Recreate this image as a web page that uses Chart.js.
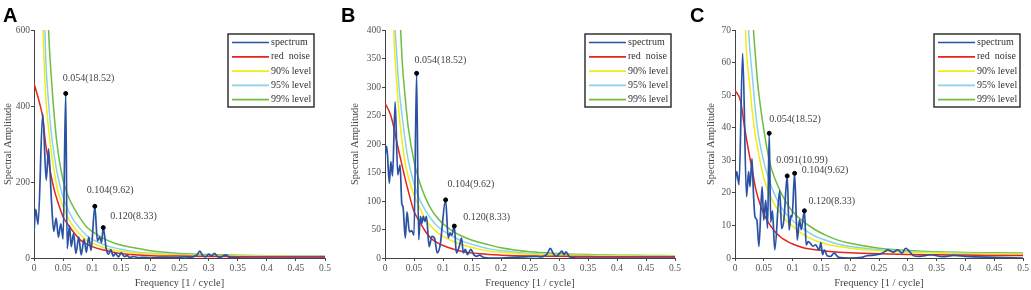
<!DOCTYPE html>
<html>
<head>
<meta charset="utf-8">
<script src="https://cdn.jsdelivr.net/npm/chart.js@4.4.1/dist/chart.umd.min.js"></script>
<style>
  html, body { margin: 0; padding: 0; background: #fff; }
  #wrap { position: relative; width: 1031px; height: 290px; overflow: hidden; }
  .panel { position: absolute; top: 0; height: 290px; }
  .letter { position: absolute; top: 5px; font: bold 20px "Liberation Sans", Arial, sans-serif; line-height: 1; color: #000; }
</style>
</head>
<body>
<div id="wrap">
  <div class="panel" style="left:0px;width:340px"><canvas id="chartA" width="340" height="290"></canvas></div>
  <div class="panel" style="left:340px;width:345px"><canvas id="chartB" width="345" height="290"></canvas></div>
  <div class="panel" style="left:685px;width:346px"><canvas id="chartC" width="346" height="290"></canvas></div>
  <div class="letter" style="left:3px">A</div>
  <div class="letter" style="left:341px">B</div>
  <div class="letter" style="left:690px">C</div>
</div>
<script>
// frequency grid shared by the smooth red noise / significance curves
const curveFreqs = [0, 0.01, 0.015, 0.02, 0.025, 0.03, 0.035, 0.04, 0.05, 0.06, 0.07, 0.08, 0.09, 0.1, 0.12, 0.14, 0.16, 0.18, 0.2, 0.25, 0.3, 0.35, 0.4, 0.45, 0.5];
const xTicks = [0, 0.05, 0.1, 0.15, 0.2, 0.25, 0.3, 0.35, 0.4, 0.45, 0.5];
const seriesNames = ['spectrum', 'red  noise', '90% level', '95% level', '99% level'];

// ---- panel A
const specFreqA = [0, 0.003, 0.007, 0.015, 0.021, 0.025, 0.03, 0.034, 0.038, 0.042, 0.046, 0.05, 0.0545, 0.057, 0.061, 0.064, 0.068, 0.072, 0.077, 0.081, 0.086, 0.09, 0.094, 0.098, 0.1045, 0.109, 0.113, 0.116, 0.119, 0.124, 0.128, 0.132, 0.136, 0.14, 0.145, 0.15, 0.155, 0.16, 0.165, 0.17, 0.18, 0.19, 0.2, 0.22, 0.24, 0.26, 0.27, 0.28, 0.285, 0.29, 0.295, 0.3, 0.305, 0.31, 0.315, 0.32, 0.33, 0.335, 0.34, 0.36, 0.4, 0.45, 0.5];
const specA = [70, 128, 88, 380, 205, 287, 150, 70, 105, 55, 90, 50, 433, 25, 85, 30, 65, 12, 55, 8, 50, 15, 55, 20, 136, 45, 55, 40, 80, 25, 10, 22, 5, 12, 3, 14, 4, 6, 1, 4, 1, 2, 0, 2, 1, 3, 2, 8, 18, 6, 3, 10, 5, 12, 4, 2, 8, 2, 1, 0, 0, 0, 0];
const redA = [460, 405, 370, 300, 255, 212, 178, 152, 108, 85, 64, 47, 37, 30, 21, 14, 10, 8, 6, 5, 4, 3.5, 3, 3, 3];
const lvl90A = [1500, 900, 620, 430, 340, 275, 225, 182, 135, 102, 78, 61, 47, 39, 27, 20, 16, 12.5, 10.5, 7.5, 6, 5, 4.5, 4, 4];
const lvl95A = [1900, 1200, 800, 530, 410, 325, 268, 222, 160, 122, 95, 76, 60, 49, 35, 26, 20, 15, 12.5, 9, 7, 6, 5.5, 5, 5];
const lvl99A = [2600, 1800, 1200, 850, 600, 470, 370, 295, 205, 158, 128, 103, 82, 70, 51, 38, 30, 25, 19, 12, 9, 7, 6, 5.5, 5];
const peakFreqA = [0.0545, 0.1045, 0.119];
const peakValA = [433, 136, 80];
const peakTextA = ['0.054(18.52)', '0.104(9.62)', '0.120(8.33)'];

// ---- panel B
const specFreqB = [0, 0.003, 0.0075, 0.01, 0.013, 0.0175, 0.022, 0.026, 0.029, 0.031, 0.035, 0.038, 0.042, 0.046, 0.05, 0.0545, 0.058, 0.061, 0.0635, 0.066, 0.0685, 0.0715, 0.076, 0.081, 0.0855, 0.09, 0.095, 0.1045, 0.109, 0.112, 0.115, 0.1195, 0.123, 0.128, 0.132, 0.135, 0.1385, 0.142, 0.148, 0.153, 0.158, 0.163, 0.17, 0.18, 0.2, 0.22, 0.24, 0.26, 0.27, 0.28, 0.285, 0.29, 0.295, 0.3, 0.305, 0.309, 0.312, 0.318, 0.33, 0.4, 0.5];
const specB = [178, 196, 131, 169, 144, 274, 146, 163, 95, 90, 35, 81, 46, 48, 40, 324, 32, 73, 61, 73, 64, 73, 20, 38, 35, 9, 22, 102, 35, 44, 40, 56, 9, 20, 35, 9, 15, 6, 15, 6, 3, 5, 1, 0, 0, 1, 2, 3, 2, 8, 17, 8, 3, 7, 12, 6, 11, 2, 0, 0, 0];
const redB = [272, 250, 230, 205, 182, 160, 138, 118, 82, 63, 46, 34, 27, 22, 15, 10, 8, 6, 5, 3.5, 3, 2.5, 2, 2, 2];
const lvl90B = [1200, 600, 400, 310, 245, 200, 165, 143, 110, 88, 67, 55, 45, 38, 28, 21, 16, 12, 10, 6.5, 5, 4, 3.5, 3, 3];
const lvl95B = [1500, 800, 470, 360, 290, 245, 205, 172, 130, 102, 83, 68, 56, 48, 36, 27, 21, 16, 13, 8, 6, 5, 4, 3.5, 3.5];
const lvl99B = [2200, 1400, 900, 620, 450, 340, 280, 230, 170, 132, 105, 85, 71, 60, 45, 35, 28, 23, 18, 11, 8, 6, 5, 4.5, 4];
const peakFreqB = [0.0545, 0.1045, 0.1195];
const peakValB = [324, 102, 56];
const peakTextB = ['0.054(18.52)', '0.104(9.62)', '0.120(8.33)'];

// ---- panel C
const specFreqC = [0, 0.003, 0.007, 0.0133, 0.02, 0.0236, 0.026, 0.0294, 0.032, 0.0346, 0.038, 0.0415, 0.047, 0.05, 0.0533, 0.0565, 0.0594, 0.062, 0.065, 0.069, 0.0775, 0.081, 0.085, 0.0906, 0.094, 0.097, 0.099, 0.1035, 0.108, 0.112, 0.115, 0.1205, 0.1236, 0.127, 0.131, 0.135, 0.14, 0.146, 0.149, 0.152, 0.155, 0.16, 0.166, 0.172, 0.18, 0.2, 0.22, 0.229, 0.24, 0.256, 0.265, 0.275, 0.282, 0.29, 0.296, 0.31, 0.32, 0.34, 0.36, 0.38, 0.4, 0.45, 0.5];
const specC = [23, 26.5, 22.5, 62.8, 18.8, 26.5, 21.9, 30.5, 20, 12.7, 11.6, 3.5, 21.9, 11.6, 17.8, 9.1, 38.3, 11, 14.5, 2.5, 20.7, 9, 12, 25.2, 8.6, 13, 12.5, 26, 5.5, 11.8, 8.7, 14.5, 4, 5, 4.5, 3.6, 4, 2.5, 4.7, 1, 2.5, 0.7, 0.5, 1.5, 0.2, 0, 0.2, 0.7, 0.9, 1.5, 2.5, 1.8, 2.5, 1.5, 3, 0.7, 0.5, 1, 0.4, 0.8, 0.5, 0.2, 0];
const redC = [51.5, 48, 42, 36.5, 31.5, 27, 22, 18.5, 13.5, 10.3, 8, 6.3, 5.2, 4.3, 3.1, 2.5, 2.1, 1.8, 1.6, 1.3, 1.1, 1, 0.9, 0.8, 0.8];
const lvl90C = [200, 110, 85, 63, 54, 45, 38, 33, 24.5, 19.5, 16, 13.5, 11.3, 9.8, 7, 5.3, 4.2, 3.5, 3, 2.2, 1.8, 1.5, 1.3, 1.2, 1.2];
const lvl95C = [280, 160, 110, 82, 66, 56, 46, 38.5, 29.5, 23.5, 19, 15.6, 13.3, 11.5, 8.8, 6.6, 5.3, 4.2, 3.5, 2.6, 2, 1.7, 1.5, 1.4, 1.4];
const lvl99C = [400, 250, 170, 125, 98, 76, 63, 52.6, 39.5, 29.5, 24, 20, 16.8, 14.3, 11, 8.6, 6.8, 5.4, 4.5, 3, 2.3, 1.9, 1.7, 1.6, 1.5];
const peakFreqC = [0.0594, 0.0906, 0.1035, 0.1205];
const peakValC = [38.3, 25.2, 26, 14.5];
const peakTextC = ['0.054(18.52)', '0.091(10.99)', '0.104(9.62)', '0.120(8.33)'];

const COLORS = {
    spectrum: '#2a52a4',
    red: '#e6241d',
    lvl90: '#f2ec12',
    lvl95: '#8ad2ea',
    lvl99: '#6dbd40'
};
const SERIF = '"Liberation Serif", "Times New Roman", serif';

function toPoints(xs, ys) {
    return xs.map((x, i) => ({ x: x, y: ys[i] }));
}

// annotation text next to the marked peaks
const peakLabelPlugin = {
    id: 'peakLabels',
    afterDatasetsDraw(chart, args, opts) {
        const ctx = chart.ctx;
        const xs = chart.scales.x, ys = chart.scales.y;
        ctx.save();
        ctx.font = '10px ' + SERIF;
        ctx.fillStyle = '#444';
        ctx.textBaseline = 'middle';
        ctx.textAlign = 'left';
        opts.freqs.forEach((f, i) => {
            const px = xs.getPixelForValue(f) + opts.offsets[i][0];
            const py = ys.getPixelForValue(opts.values[i]) + opts.offsets[i][1];
            ctx.fillText(opts.texts[i], px, py);
        });
        ctx.restore();
    }
};

// boxed legend inside the plot, line sample left of the name
const boxLegendPlugin = {
    id: 'boxLegend',
    afterDraw(chart, args, opts) {
        const ctx = chart.ctx;
        const left = opts.left, top = opts.top, w = 86, h = 73;
        ctx.save();
        ctx.fillStyle = '#fff';
        ctx.fillRect(left, top, w, h);
        ctx.strokeStyle = '#333';
        ctx.lineWidth = 1.5;
        ctx.strokeRect(left, top, w, h);
        ctx.font = '10px ' + SERIF;
        ctx.textBaseline = 'middle';
        chart.data.datasets.filter(d => !d.noLegend).forEach((ds, i) => {
            const yy = top + 8.5 + i * 14.3;
            ctx.strokeStyle = ds.borderColor;
            ctx.lineWidth = 1.7;
            ctx.beginPath();
            ctx.moveTo(left + 4, yy);
            ctx.lineTo(left + 41, yy);
            ctx.stroke();
            ctx.fillStyle = '#333';
            ctx.fillText(ds.label, left + 43, yy);
        });
        ctx.restore();
    }
};

function curve(label, data, color, width) {
    return {
        label: label,
        data: toPoints(curveFreqs, data),
        borderColor: color,
        borderWidth: width,
        pointRadius: 0,
        cubicInterpolationMode: 'monotone',
        fill: false
    };
}

function makePanel(canvasId, p) {
    const datasets = [
        {
            label: seriesNames[0],
            data: toPoints(p.specFreq, p.spec),
            borderColor: COLORS.spectrum,
            borderWidth: 1.7,
            pointRadius: 0,
            cubicInterpolationMode: 'monotone',
            fill: false
        },
        curve(seriesNames[1], p.red, COLORS.red, 1.5),
        curve(seriesNames[2], p.l90, COLORS.lvl90, 1.5),
        curve(seriesNames[3], p.l95, COLORS.lvl95, 1.5),
        curve(seriesNames[4], p.l99, COLORS.lvl99, 1.5),
        {
            label: 'peaks',
            noLegend: true,
            type: 'scatter',
            data: toPoints(p.peakFreq, p.peakVal),
            backgroundColor: '#000',
            borderColor: '#000',
            pointRadius: 2,
            order: -1
        }
    ];

    const tickFont = { family: SERIF, size: 9.5 };
    const titleFont = { family: SERIF, size: 10.5 };

    new Chart(document.getElementById(canvasId).getContext('2d'), {
        type: 'line',
        data: { datasets: datasets },
        options: {
            responsive: false,
            animation: false,
            events: [],
            layout: { padding: { left: 0, top: 30, right: p.padRight, bottom: 0 } },
            plugins: {
                legend: { display: false },
                tooltip: { enabled: false },
                peakLabels: { freqs: p.peakFreq, values: p.peakVal, texts: p.peakText, offsets: p.labelOffsets },
                boxLegend: { left: p.legendLeft, top: 34 }
            },
            scales: {
                x: {
                    type: 'linear',
                    min: 0,
                    max: 0.5,
                    afterBuildTicks: s => { s.ticks = xTicks.map(v => ({ value: v })); },
                    ticks: {
                        callback: v => String(+v.toFixed(2)),
                        font: tickFont,
                        color: '#555',
                        padding: 2,
                        maxRotation: 0,
                        autoSkip: false
                    },
                    grid: { display: true, drawOnChartArea: false, drawTicks: true, tickLength: 3, color: '#444' },
                    border: { display: true, color: '#444', width: 1 },
                    title: { display: true, text: 'Frequency [1 / cycle]', font: titleFont, color: '#444', padding: { top: 0, bottom: 0 } },
                    afterFit: s => { s.height = 32; }
                },
                y: {
                    type: 'linear',
                    min: 0,
                    max: p.yMax,
                    ticks: {
                        stepSize: p.yStep,
                        font: tickFont,
                        color: '#555',
                        padding: 1
                    },
                    grid: { display: true, drawOnChartArea: false, drawTicks: true, tickLength: 3, color: '#444' },
                    border: { display: true, color: '#444', width: 1 },
                    title: { display: true, text: 'Spectral Amplitude', font: titleFont, color: '#444', padding: { top: p.yTitlePad, bottom: 0 } },
                    afterFit: s => { s.width = p.yWidth; }
                }
            }
        },
        plugins: [peakLabelPlugin, boxLegendPlugin]
    });
}

makePanel('chartA', {
    specFreq: specFreqA, spec: specA, red: redA, l90: lvl90A, l95: lvl95A, l99: lvl99A,
    peakFreq: peakFreqA, peakVal: peakValA, peakText: peakTextA,
    labelOffsets: [[-3, -15], [-8, -16], [7, -11]],
    yMax: 600, yStep: 200, yWidth: 34, yTitlePad: 2, padRight: 15, legendLeft: 228
});
makePanel('chartB', {
    specFreq: specFreqB, spec: specB, red: redB, l90: lvl90B, l95: lvl95B, l99: lvl99B,
    peakFreq: peakFreqB, peakVal: peakValB, peakText: peakTextB,
    labelOffsets: [[-2, -13], [2, -15], [9, -9]],
    yMax: 400, yStep: 50, yWidth: 45, yTitlePad: 9, padRight: 10, legendLeft: 245
});
makePanel('chartC', {
    specFreq: specFreqC, spec: specC, red: redC, l90: lvl90C, l95: lvl95C, l99: lvl99C,
    peakFreq: peakFreqC, peakVal: peakValC, peakText: peakTextC,
    labelOffsets: [[0, -14], [-11, -16], [7, -3], [4, -9]],
    yMax: 70, yStep: 10, yWidth: 50, yTitlePad: 20, padRight: 7, legendLeft: 249
});
</script>
</body>
</html>
